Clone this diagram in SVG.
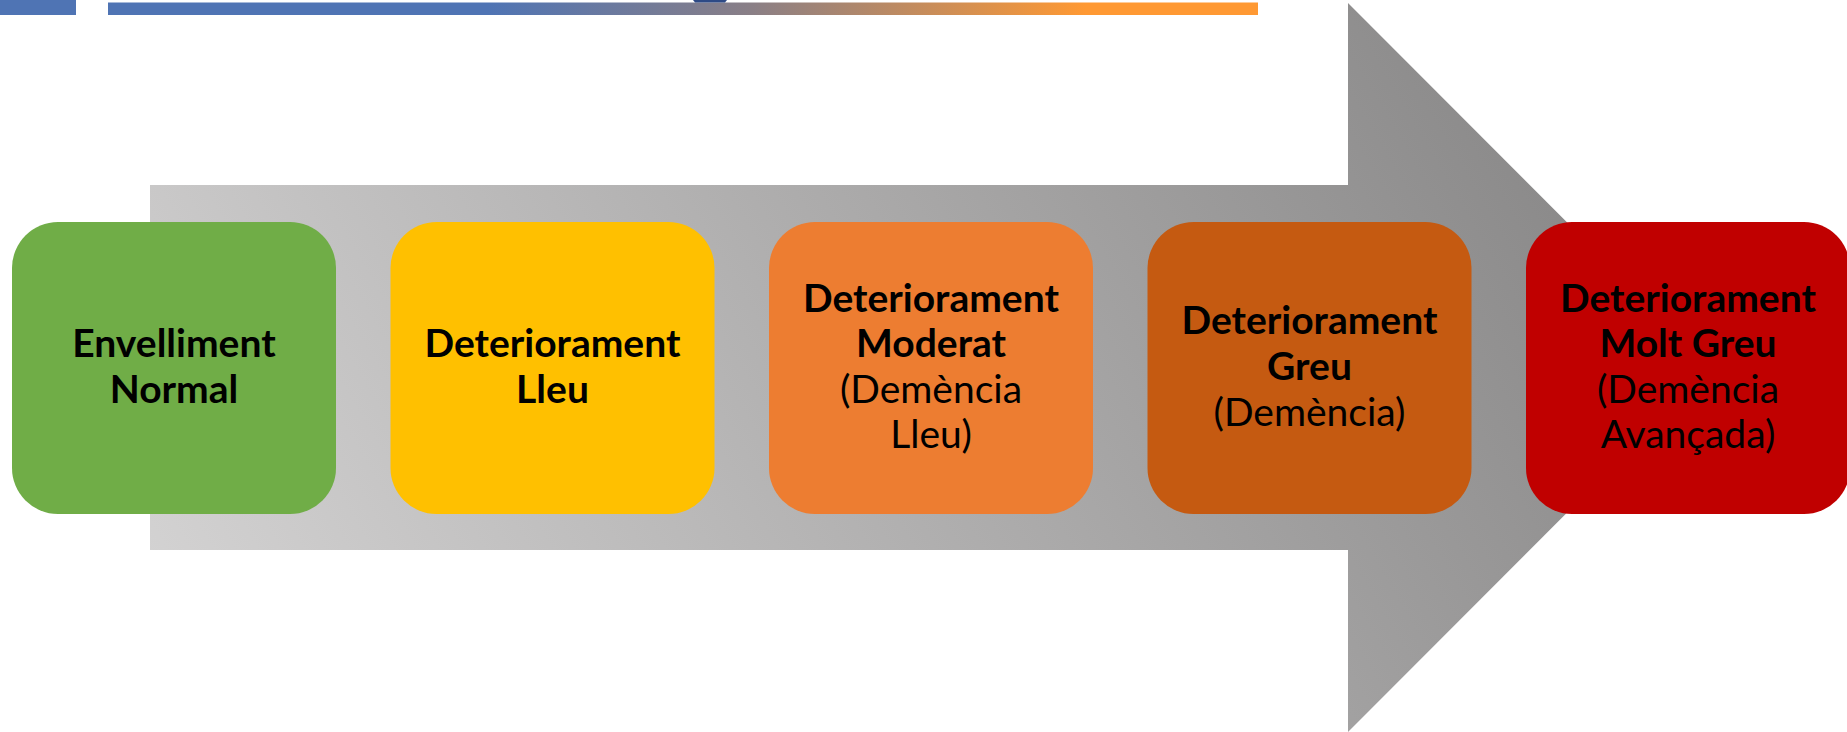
<svg xmlns="http://www.w3.org/2000/svg" width="1847" height="732" viewBox="0 0 1847 732">
<defs>
<linearGradient id="barGrad" gradientUnits="userSpaceOnUse" x1="108" y1="0" x2="1258" y2="0">
<stop offset="0" stop-color="#4F74B4"/>
<stop offset="0.33" stop-color="#4F74B4"/>
<stop offset="0.56" stop-color="#8A7F86"/>
<stop offset="0.85" stop-color="#FF9933"/>
<stop offset="1" stop-color="#FF9933"/>
</linearGradient>
<linearGradient id="arrowGrad" gradientUnits="userSpaceOnUse" x1="150" y1="600" x2="1600" y2="-250">
<stop offset="0" stop-color="#D4D3D3"/>
<stop offset="1" stop-color="#7E7D7D"/>
</linearGradient>
<style>
.box { stroke: none; }
.t { font-family: Lato, "Open Sans", sans-serif; font-size: 39px; fill: #000; text-anchor: middle; }
.b { font-weight: bold; }
</style>
</defs>
<rect width="1847" height="732" fill="#FFFFFF"/>
<g id="header">
<rect x="0" y="0" width="76" height="15" fill="#4F74B4"/>
<rect x="108" y="2.5" width="1150" height="12.5" fill="url(#barGrad)"/>
<path d="M693 0 L727 0 L725 2.5 L695 2.5 Z" fill="#2E4A86"/>
</g>
<g id="connectors">
<path id="arrow" d="M150 185 L1348 185 L1348 3 L1712 367.5 L1348 732 L1348 550 L150 550 Z" fill="url(#arrowGrad)"/>
</g>
<g id="node1">
<rect class="box" x="12" y="222" width="324" height="292" rx="46" fill="#70AD47"/>
<text class="t b" x="174" y="357">Envelliment</text>
<text class="t b" x="174" y="403">Normal</text>
</g>
<g id="node2">
<rect class="box" x="390.5" y="222" width="324" height="292" rx="46" fill="#FFC000"/>
<text class="t b" x="552.5" y="357">Deteriorament</text>
<text class="t b" x="552.5" y="403">Lleu</text>
</g>
<g id="node3">
<rect class="box" x="769" y="222" width="324" height="292" rx="46" fill="#ED7D31"/>
<text class="t b" x="931" y="312">Deteriorament</text>
<text class="t b" x="931" y="357">Moderat</text>
<text class="t" x="931" y="403">(Demència</text>
<text class="t" x="931" y="448">Lleu)</text>
</g>
<g id="node4">
<rect class="box" x="1147.5" y="222" width="324" height="292" rx="46" fill="#C55A11"/>
<text class="t b" x="1309.5" y="334">Deteriorament</text>
<text class="t b" x="1309.5" y="380">Greu</text>
<text class="t" x="1309.5" y="426">(Demència)</text>
</g>
<g id="node5">
<rect class="box" x="1526" y="222" width="324" height="292" rx="46" fill="#C00000"/>
<text class="t b" x="1688" y="312">Deteriorament</text>
<text class="t b" x="1688" y="357">Molt Greu</text>
<text class="t" x="1688" y="403">(Demència</text>
<text class="t" x="1688" y="448">Avançada)</text>
</g>
</svg>
